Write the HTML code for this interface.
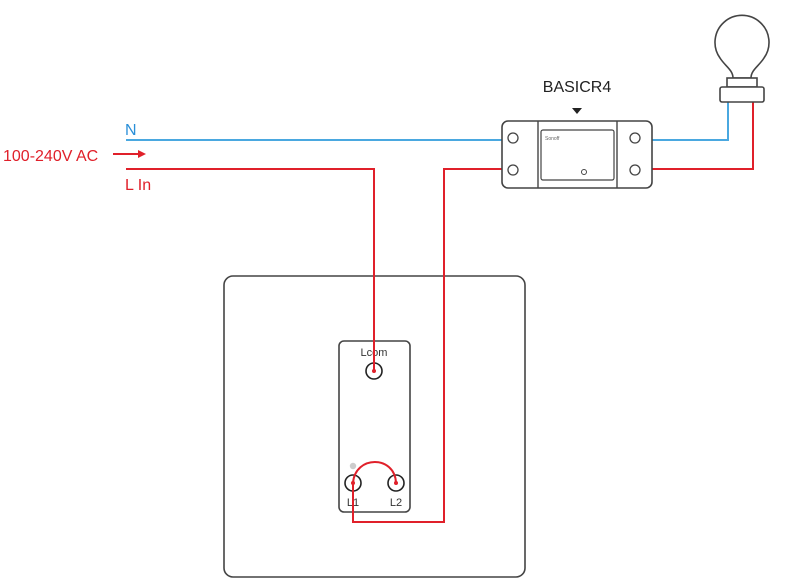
<!DOCTYPE html>
<html><head><style>html,body{margin:0;padding:0;background:#fff;width:800px;height:588px;overflow:hidden}</style></head>
<body>
<svg width="800" height="588" viewBox="0 0 800 588" xmlns="http://www.w3.org/2000/svg" font-family="Liberation Sans, sans-serif">
<rect x="224" y="276" width="301" height="301" rx="9" fill="none" stroke="#444" stroke-width="1.6"/>
<rect x="339" y="341" width="71" height="171" rx="5" fill="none" stroke="#444" stroke-width="1.6"/>
<text x="374" y="356" font-size="11" text-anchor="middle" fill="#333">Lcom</text>
<circle cx="374" cy="371" r="8" fill="#fff" stroke="#222" stroke-width="1.6"/>
<circle cx="353" cy="483" r="8" fill="#fff" stroke="#222" stroke-width="1.6"/>
<circle cx="396" cy="483" r="8" fill="#fff" stroke="#222" stroke-width="1.6"/>
<circle cx="353" cy="466" r="3.2" fill="#ccc"/>
<text x="353" y="506" font-size="11" text-anchor="middle" fill="#333">L1</text>
<text x="396" y="506" font-size="11" text-anchor="middle" fill="#333">L2</text>
<g fill="none" stroke-width="2">
<polyline points="126,140 504,140" stroke="#4aa8e0"/>
<polyline points="652,140 728,140 728,102" stroke="#4aa8e0"/>
<polyline points="126,169 374,169 374,371" stroke="#e0202a"/>
<polyline points="504,169 444,169 444,522 353,522 353,483" stroke="#e0202a"/>
<polyline points="652,169 753,169 753,102" stroke="#e0202a"/>
<path d="M353,483 C355,455 395,455 396,483" stroke="#e0202a"/>
<line x1="113" y1="154" x2="143" y2="154" stroke="#e0202a"/>
</g>
<polygon points="146,154 138,150 138,158" fill="#e0202a"/>
<circle cx="374" cy="371" r="2" fill="#e0202a"/><circle cx="353" cy="483" r="2" fill="#e0202a"/><circle cx="396" cy="483" r="2" fill="#e0202a"/>
<text x="125" y="135" font-size="16" fill="#2a8fd8">N</text>
<text x="3" y="161" font-size="16" fill="#e0202a">100-240V AC</text>
<text x="125" y="190" font-size="16" fill="#e0202a">L In</text>
<rect x="502" y="121" width="150" height="67" rx="6" fill="#fff" stroke="#444" stroke-width="1.6"/>
<line x1="538" y1="121" x2="538" y2="188" stroke="#444" stroke-width="1.4"/>
<line x1="617" y1="121" x2="617" y2="188" stroke="#444" stroke-width="1.4"/>
<rect x="541" y="130" width="73" height="50" rx="2" fill="none" stroke="#444" stroke-width="1.2"/>
<circle cx="584" cy="172" r="2.5" fill="none" stroke="#444"/>
<text x="545" y="140" font-size="5" fill="#666">Sonoff</text>
<g fill="#fff" stroke="#444" stroke-width="1.3">
<circle cx="513" cy="138" r="5"/><circle cx="513" cy="170" r="5"/>
<circle cx="635" cy="138" r="5"/><circle cx="635" cy="170" r="5"/>
</g>
<text x="577" y="92" font-size="16" text-anchor="middle" fill="#222">BASICR4</text>
<polygon points="572,108 582,108 577,114" fill="#222"/>
<path d="M733,78 C733,70 725,66 720,58 A27,27 0 1 1 764,58 C759,66 751,70 751,78 Z" fill="#fff" stroke="#444" stroke-width="1.6"/>
<rect x="727" y="78" width="30" height="9" fill="#fff" stroke="#444" stroke-width="1.6"/>
<rect x="720" y="87" width="44" height="15" rx="2" fill="#fff" stroke="#444" stroke-width="1.6"/>
</svg>
</body></html>
